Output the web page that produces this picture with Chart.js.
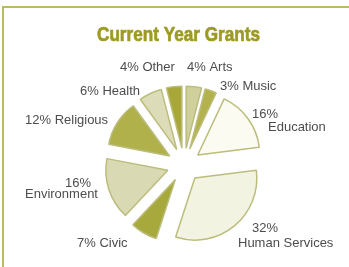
<!DOCTYPE html>
<html>
<head>
<meta charset="utf-8">
<script src="https://cdn.jsdelivr.net/npm/chart.js@4/dist/chart.umd.min.js"></script>
<style>
  html, body { margin: 0; padding: 0; background: #fff; }
  #wrap { position: relative; width: 349px; height: 267px; overflow: hidden; }
  #frame { position: absolute; left: 2px; top: 6px; right: -4px; bottom: -4px;
           border-top: 2px solid #b9ba62; border-left: 2px solid #b9ba62; }
  canvas { position: absolute; left: 0; top: 0; }
</style>
</head>
<body>
<div id="wrap">
  <div id="frame"></div>
  <canvas id="grants" width="349" height="267"></canvas>
</div>
<script>
const chartTitle = "Current Year Grants";
const categories = ["Arts", "Music", "Education", "Human Services", "Civic", "Environment", "Religious", "Health", "Other"];
const shares = [4, 3, 16, 32, 7, 16, 12, 6, 4];

const sliceColors = ["#cfd09b", "#b3b24d", "#fbfbf1", "#f3f3e2", "#a7a93d", "#d9d9b3", "#b0b14b", "#dcddb8", "#a8a839"];

// label placement: one [left x, baseline y] per text line
const labelLines = [
  [[187, 71]],
  [[220, 90]],
  [[252, 118], [268, 131]],
  [[252, 232], [238, 247]],
  [[77, 247]],
  [[65, 187], [25, 198]],
  [[25, 124]],
  [[80, 95]],
  [[120, 71]]
];

const explode = 17; // px each slice is pulled out from the centre

// push each slice out along its middle angle (chart.js offset also grows small slices)
const explodePlugin = {
  id: "explode",
  afterDatasetsUpdate(chart) {
    const a = chart.chartArea;
    const cx = (a.left + a.right) / 2, cy = (a.top + a.bottom) / 2;
    chart.getDatasetMeta(0).data.forEach(arc => {
      const mid = (arc.startAngle + arc.endAngle) / 2;
      arc.x = cx + Math.cos(mid) * explode;
      arc.y = cy + Math.sin(mid) * explode;
    });
  }
};

const labelsPlugin = {
  id: "grantLabels",
  afterDraw(chart) {
    const ctx = chart.ctx;
    ctx.save();
    ctx.font = 'bold 21px "Liberation Sans", Arial, sans-serif';
    ctx.fillStyle = "#9d9b22";
    ctx.strokeStyle = "#9d9b22";
    ctx.lineWidth = 0.7;
    ctx.textBaseline = "alphabetic";
    ctx.textAlign = "left";
    const w = ctx.measureText(chartTitle).width;
    ctx.save();
    ctx.translate(97, 41);
    ctx.scale(163 / w, 1);
    ctx.fillText(chartTitle, 0, 0);
    ctx.strokeText(chartTitle, 0, 0);
    ctx.restore();

    ctx.font = '13px "Liberation Sans", Arial, sans-serif';
    ctx.fillStyle = "#4d4d4d";
    categories.forEach((cat, i) => {
      const pos = labelLines[i];
      const pct = shares[i] + "%";
      const lines = pos.length > 1 ? [pct, cat] : [pct + " " + cat];
      lines.forEach((t, j) => ctx.fillText(t, pos[j][0], pos[j][1]));
    });
    ctx.restore();
  }
};

new Chart(document.getElementById("grants"), {
  type: "pie",
  data: {
    labels: categories,
    datasets: [{
      data: shares,
      backgroundColor: sliceColors,
      borderColor: "#bcbd7c",
      borderWidth: 1.5
    }]
  },
  options: {
    responsive: false,
    animation: false,
    devicePixelRatio: 1,
    radius: 62,
    events: [],
    layout: { padding: { left: 19, right: 0, top: 63, bottom: 0 } },
    plugins: {
      legend: { display: false },
      tooltip: { enabled: false },
      title: { display: false }
    }
  },
  plugins: [explodePlugin, labelsPlugin]
});
</script>
</body>
</html>
